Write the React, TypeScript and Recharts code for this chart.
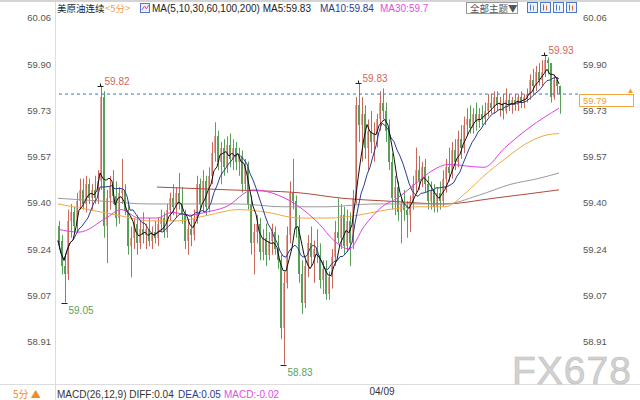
import React from 'react';
import { ComposedChart, Bar, Line, XAxis, YAxis, ReferenceLine, ReferenceDot } from 'recharts';

document.body.style.margin = '0';

// 5-minute candles (left to right)
const opens = [
  59.32, 59.27, 59.18, 59.15, 59.34, 59.37, 59.32, 59.41, 59.45, 59.40, 59.47, 59.42, 59.45, 59.42, 59.48, 59.78,
  59.32, 59.42, 59.46, 59.43, 59.35, 59.44, 59.45, 59.38, 59.25, 59.28, 59.33, 59.26, 59.31, 59.29, 59.31, 59.27,
  59.30, 59.28, 59.33, 59.35, 59.30, 59.38, 59.42, 59.39, 59.44, 59.40, 59.36, 59.27, 59.31, 59.29, 59.35, 59.47,
  59.40, 59.48, 59.39, 59.50, 59.58, 59.64, 59.55, 59.60, 59.53, 59.61, 59.56, 59.60, 59.55, 59.57, 59.47, 59.53,
  59.40, 59.26, 59.30, 59.33, 59.23, 59.28, 59.22, 59.27, 59.30, 59.24, 59.20, 58.96, 59.12, 59.29, 59.44, 59.41,
  59.31, 59.15, 59.05, 59.18, 59.26, 59.21, 59.24, 59.22, 59.13, 59.17, 59.08, 59.14, 59.21, 59.30, 59.28, 59.36,
  59.25, 59.34, 59.26, 59.42, 59.75, 59.68, 59.72, 59.60, 59.66, 59.62, 59.65, 59.70, 59.76, 59.73, 59.66, 59.55,
  59.42, 59.46, 59.37, 59.40, 59.38, 59.36, 59.41, 59.47, 59.52, 59.48, 59.53, 59.47, 59.41, 59.45, 59.39, 59.44,
  59.41, 59.49, 59.53, 59.51, 59.59, 59.55, 59.63, 59.60, 59.68, 59.70, 59.67, 59.72, 59.69, 59.72, 59.70, 59.73,
  59.76, 59.74, 59.78, 59.75, 59.76, 59.73, 59.77, 59.75, 59.77, 59.75, 59.78, 59.76, 59.78, 59.79, 59.84, 59.82,
  59.87, 59.84, 59.87, 59.91, 59.90, 59.78, 59.84, 59.82,
];
const highs = [
  59.34, 59.29, 59.22, 59.38, 59.40, 59.39, 59.44, 59.49, 59.49, 59.50, 59.49, 59.47, 59.50, 59.52, 59.82, 59.80,
  59.45, 59.50, 59.52, 59.48, 59.46, 59.56, 59.47, 59.41, 59.32, 59.35, 59.36, 59.34, 59.37, 59.33, 59.35, 59.32,
  59.34, 59.35, 59.38, 59.37, 59.40, 59.44, 59.47, 59.46, 59.51, 59.46, 59.38, 59.34, 59.36, 59.38, 59.50, 59.49,
  59.52, 59.50, 59.53, 59.62, 59.69, 59.66, 59.62, 59.63, 59.64, 59.65, 59.63, 59.62, 59.60, 59.59, 59.56, 59.55,
  59.43, 59.33, 59.36, 59.35, 59.31, 59.33, 59.30, 59.33, 59.32, 59.29, 59.22, 59.16, 59.32, 59.48, 59.56, 59.43,
  59.36, 59.20, 59.20, 59.29, 59.32, 59.27, 59.31, 59.26, 59.20, 59.20, 59.16, 59.24, 59.34, 59.42, 59.40, 59.39,
  59.38, 59.37, 59.45, 59.78, 59.83, 59.78, 59.75, 59.70, 59.73, 59.69, 59.72, 59.80, 59.81, 59.76, 59.70, 59.58,
  59.50, 59.48, 59.42, 59.45, 59.41, 59.43, 59.50, 59.60, 59.57, 59.55, 59.56, 59.50, 59.48, 59.47, 59.46, 59.48,
  59.52, 59.56, 59.60, 59.62, 59.63, 59.66, 59.68, 59.71, 59.74, 59.75, 59.74, 59.76, 59.74, 59.75, 59.76, 59.79,
  59.79, 59.80, 59.80, 59.78, 59.79, 59.81, 59.79, 59.78, 59.79, 59.79, 59.80, 59.79, 59.81, 59.86, 59.88, 59.89,
  59.90, 59.91, 59.93, 59.92, 59.90, 59.86, 59.85, 59.82,
];
const lows = [
  59.24, 59.15, 59.05, 59.13, 59.28, 59.30, 59.30, 59.38, 59.38, 59.37, 59.40, 59.38, 59.40, 59.40, 59.45, 59.28,
  59.19, 59.38, 59.40, 59.32, 59.33, 59.40, 59.36, 59.22, 59.14, 59.24, 59.22, 59.24, 59.26, 59.24, 59.25, 59.24,
  59.26, 59.25, 59.30, 59.28, 59.28, 59.34, 59.36, 59.35, 59.38, 59.33, 59.24, 59.22, 59.25, 59.27, 59.33, 59.38,
  59.37, 59.36, 59.37, 59.47, 59.55, 59.52, 59.47, 59.50, 59.51, 59.53, 59.52, 59.52, 59.50, 59.44, 59.45, 59.38,
  59.22, 59.15, 59.26, 59.20, 59.20, 59.18, 59.20, 59.22, 59.22, 59.17, 58.92, 58.83, 59.10, 59.26, 59.38, 59.28,
  59.12, 59.01, 59.03, 59.14, 59.18, 59.12, 59.19, 59.10, 59.08, 59.06, 59.06, 59.10, 59.18, 59.26, 59.24, 59.22,
  59.23, 59.18, 59.24, 59.40, 59.62, 59.55, 59.56, 59.52, 59.58, 59.55, 59.60, 59.66, 59.70, 59.62, 59.52, 59.38,
  59.36, 59.34, 59.26, 59.34, 59.28, 59.30, 59.38, 59.44, 59.45, 59.46, 59.44, 59.38, 59.38, 59.37, 59.37, 59.38,
  59.39, 59.44, 59.48, 59.49, 59.52, 59.53, 59.56, 59.58, 59.64, 59.65, 59.65, 59.66, 59.67, 59.68, 59.68, 59.71,
  59.72, 59.72, 59.73, 59.71, 59.70, 59.72, 59.73, 59.72, 59.73, 59.73, 59.74, 59.74, 59.76, 59.77, 59.79, 59.80,
  59.82, 59.82, 59.85, 59.86, 59.76, 59.77, 59.79, 59.72,
];
const closes = [
  59.27, 59.18, 59.15, 59.34, 59.37, 59.32, 59.41, 59.45, 59.40, 59.47, 59.42, 59.45, 59.42, 59.48, 59.78, 59.32,
  59.42, 59.46, 59.43, 59.35, 59.44, 59.45, 59.38, 59.25, 59.28, 59.33, 59.26, 59.31, 59.29, 59.31, 59.27, 59.30,
  59.28, 59.33, 59.35, 59.30, 59.38, 59.42, 59.39, 59.44, 59.40, 59.36, 59.27, 59.31, 59.29, 59.35, 59.47, 59.40,
  59.48, 59.39, 59.50, 59.58, 59.64, 59.55, 59.60, 59.53, 59.61, 59.56, 59.60, 59.55, 59.57, 59.47, 59.53, 59.40,
  59.26, 59.30, 59.33, 59.23, 59.28, 59.22, 59.27, 59.30, 59.24, 59.20, 58.96, 59.12, 59.29, 59.44, 59.41, 59.31,
  59.15, 59.05, 59.18, 59.26, 59.21, 59.24, 59.22, 59.13, 59.17, 59.08, 59.14, 59.21, 59.30, 59.28, 59.36, 59.25,
  59.34, 59.26, 59.42, 59.75, 59.68, 59.72, 59.60, 59.66, 59.62, 59.65, 59.70, 59.76, 59.73, 59.66, 59.55, 59.42,
  59.46, 59.37, 59.40, 59.38, 59.36, 59.41, 59.47, 59.52, 59.48, 59.53, 59.47, 59.41, 59.45, 59.39, 59.44, 59.41,
  59.49, 59.53, 59.51, 59.59, 59.55, 59.63, 59.60, 59.68, 59.70, 59.67, 59.72, 59.69, 59.72, 59.70, 59.73, 59.76,
  59.74, 59.78, 59.75, 59.76, 59.73, 59.77, 59.75, 59.77, 59.75, 59.78, 59.76, 59.78, 59.79, 59.84, 59.82, 59.87,
  59.84, 59.87, 59.91, 59.90, 59.78, 59.84, 59.82, 59.79,
];

// longer moving averages read at sparse candle indices: [index, value]
const ma30Points: [number, number][] = [
  [0, 59.31], [7, 59.30], [16, 59.35], [21, 59.38], [27, 59.35], [33, 59.35], [38, 59.37], [44, 59.36],
  [49, 59.37], [56, 59.39], [65, 59.45], [71, 59.44], [79, 59.40], [87, 59.33], [92, 59.27], [97, 59.24],
  [102, 59.32], [108, 59.39], [113, 59.42], [119, 59.47], [125, 59.52], [130, 59.54], [142, 59.53],
  [149, 59.60], [157, 59.67], [167, 59.74],
];
const ma60Points: [number, number][] = [
  [0, 59.40], [10, 59.38], [20, 59.36], [30, 59.34], [40, 59.34], [50, 59.36], [60, 59.38], [70, 59.37],
  [80, 59.35], [90, 59.35], [100, 59.36], [110, 59.38], [120, 59.39], [129, 59.39], [136, 59.44],
  [142, 59.50], [149, 59.56], [157, 59.62], [163, 59.645], [167, 59.65],
];
const ma100Points: [number, number][] = [
  [0, 59.42], [15, 59.41], [30, 59.40], [45, 59.40], [60, 59.40], [75, 59.39], [90, 59.39], [105, 59.40],
  [120, 59.40], [129, 59.40], [140, 59.43], [151, 59.47], [160, 59.49], [167, 59.51],
];
const ma200Points: [number, number][] = [
  [33, 59.46], [57, 59.45], [80, 59.44], [95, 59.42], [110, 59.41], [129, 59.40], [145, 59.42], [167, 59.45],
];

const priceTicks = [58.91, 59.074, 59.239, 59.403, 59.567, 59.731, 59.896, 60.06];
const lastPrice = 59.79;
const dayBreak = { index: 108, label: '04/09' };
const extremes = [
  { index: 14, kind: 'high' },
  { index: 100, kind: 'high' },
  { index: 162, kind: 'high' },
  { index: 2, kind: 'low' },
  { index: 75, kind: 'low' },
];

const FONT = 'Liberation Sans, Arial, sans-serif';
const CJK = 'Noto Sans CJK SC, sans-serif';
const UP = '#c8685a';
const UP_FILL = '#e4a096';
const DOWN = '#58a058';

function movingAvg(values: number[], n: number) {
  return values.map((_, i) => {
    const win = values.slice(Math.max(0, i - n + 1), i + 1);
    return win.reduce((a, b) => a + b, 0) / win.length;
  });
}

function lookup(points: [number, number][]) {
  const m = new Map(points);
  return (i: number) => (m.has(i) ? (m.get(i) as number) : null);
}

const ma5 = movingAvg(closes, 5);
const ma10 = movingAvg(closes, 10);
const ma30 = lookup(ma30Points);
const ma60 = lookup(ma60Points);
const ma100 = lookup(ma100Points);
const ma200 = lookup(ma200Points);

const data = closes.map((c, i) => ({
  t: i,
  o: opens[i],
  h: highs[i],
  l: lows[i],
  c,
  ma5: ma5[i],
  ma10: ma10[i],
  ma30: ma30(i),
  ma60: ma60(i),
  ma100: ma100(i),
  ma200: ma200(i),
}));

function Candle(props: any) {
  const { x, y, height, payload } = props;
  if (!payload || x == null) return null;
  const { o, h, l, c } = payload;
  const top = Math.min(y, y + height);
  const bottom = Math.max(y, y + height);
  const ppu = h > l ? (bottom - top) / (h - l) : 0;
  const yOf = (v: number) => top + (h - v) * ppu;
  const up = c >= o;
  const bx = Math.round(x);
  const bTop = Math.round(yOf(Math.max(o, c)));
  const bBot = Math.round(yOf(Math.min(o, c)));
  return (
    <g>
      <rect x={bx} y={bTop} width={2} height={Math.max(1, bBot - bTop)} fill={up ? UP_FILL : DOWN} />
      <line x1={bx + 1.5} x2={bx + 1.5} y1={top} y2={bottom} stroke={up ? UP : DOWN} strokeWidth={1} />
    </g>
  );
}

function Marker(props: any) {
  const { cx, cy, kind, value } = props;
  if (cx == null || cy == null) return null;
  const px = Math.floor(cx) + 0.5;
  const py = Math.round(cy) + 0.5;
  const high = kind === 'high';
  return (
    <g>
      <line x1={px - 3} x2={px + 3} y1={py} y2={py} stroke="#222" />
      {high && <line x1={px} x2={px} y1={py - 3} y2={py} stroke="#222" />}
      <text
        x={px + 4}
        y={high ? py - 2 : py + 10}
        fontSize={10}
        fontFamily={FONT}
        fill={high ? '#d0685a' : '#5aa05a'}
      >
        {value.toFixed(2)}
      </text>
    </g>
  );
}

const LeftTick = (p: any) => (
  <text x={51} y={p.y} dy="0.355em" textAnchor="end" fontSize={9.5} fontFamily={FONT} fill="#555">
    {Number(p.payload.value).toFixed(2)}
  </text>
);

const RightTick = (p: any) => (
  <text x={583} y={p.y} dy="0.355em" textAnchor="start" fontSize={9.5} fontFamily={FONT} fill="#555">
    {Number(p.payload.value).toFixed(2)}
  </text>
);

const DayTick = (p: any) => (
  <text x={p.x} y={391} dy="0.355em" textAnchor="middle" fontSize={10} fontFamily={FONT} fill="#333">
    {dayBreak.label}
  </text>
);

function ToolIcon({ x }: { x: number }) {
  return (
    <g>
      <rect x={x + 0.5} y={2.5} width={10} height={10} fill="#eef3ff" stroke="#4a78c8" />
      <line x1={x + 3.5} x2={x + 3.5} y1={4.5} y2={10.5} stroke="#4a78c8" />
      <line x1={x + 6.5} x2={x + 6.5} y1={5.5} y2={10.5} stroke="#e07030" />
    </g>
  );
}

function Overlay() {
  return (
    <svg
      width={640}
      height={400}
      style={{ position: 'absolute', left: 0, top: 0, pointerEvents: 'none' }}
    >
      <rect x={0} y={0} width={640} height={2} fill="#d4d4d4" />
      <line x1={55.5} x2={55.5} y1={2} y2={400} stroke="#dcdcdc" />
      <line x1={0} x2={640} y1={384.5} y2={384.5} stroke="#dcdcdc" />

      <text x={57} y={12} fontSize={9.5} fontFamily={CJK} fill="#222">美原油连续</text>
      <text x={105} y={12} fontSize={9.5} fontFamily={CJK} fill="#f0a040">&lt;5分&gt;</text>
      <rect x={140.5} y={3.5} width={9} height={9} fill="#eef0ff" stroke="#5577cc" />
      <polyline points="142,10 144.5,6 146.5,9 148.5,5" fill="none" stroke="#d050a0" />
      <text x={152} y={12} fontSize={10} fontFamily={FONT} fill="#222">MA(5,10,30,60,100,200) MA5:59.83</text>
      <text x={320} y={12} fontSize={10} fontFamily={FONT} fill="#2b3b8f">MA10:59.84</text>
      <text x={380} y={12} fontSize={10} fontFamily={FONT} fill="#e050e0">MA30:59.7</text>

      <rect x={466.5} y={2.5} width={51} height={11} fill="#fff" stroke="#999" />
      <text x={470} y={11.5} fontSize={9.5} fontFamily={CJK} fill="#555">全部主题▼</text>
      <ToolIcon x={527} />
      <ToolIcon x={540} />
      <ToolIcon x={553} />
      <ToolIcon x={566} />

      <rect x={579.5} y={94.5} width={54} height={12} fill="#fff" stroke="#f0a840" />
      <text x={583} y={103.5} fontSize={9.5} fontFamily={FONT} fill="#f0a030">{lastPrice.toFixed(2)}</text>
      <path d="M628 93 L630.5 88.5 L633 93 Z" fill="#f0a030" />

      <text x={512} y={384} fontSize={39} fontFamily={FONT} fill="#d2d2d2" stroke="#bdbdbd" strokeWidth={0.6} letterSpacing={1}>
        FX678
      </text>

      <text x={13} y={398} fontSize={10} fontFamily={CJK} fill="#f08c28">5分 ▲</text>
      <text x={57} y={398} fontSize={10} fontFamily={FONT} fill="#333">MACD(26,12,9) DIFF:0.04</text>
      <text x={178} y={398} fontSize={10} fontFamily={FONT} fill="#2b3b8f">DEA:0.05</text>
      <text x={224} y={398} fontSize={10} fontFamily={FONT} fill="#e050e0">MACD:-0.02</text>
    </svg>
  );
}

export default function App() {
  const domain: [number, number] = [58.7645, 60.1097];
  return (
    <div style={{ position: 'relative', width: 640, height: 400, background: '#fff' }}>
      <ComposedChart width={640} height={400} data={data} margin={{ top: 4, right: 0, bottom: 0, left: 0 }}>
        <XAxis
          dataKey="t"
          type="category"
          padding={{ left: 1.5, right: 17.5 }}
          ticks={[dayBreak.index]}
          interval={0}
          axisLine={false}
          tickLine={false}
          height={17}
          tick={DayTick}
        />
        <YAxis
          yAxisId="left"
          orientation="left"
          width={55}
          domain={domain}
          allowDataOverflow
          ticks={priceTicks}
          axisLine={false}
          tickLine={false}
          tick={LeftTick}
        />
        <YAxis
          yAxisId="right"
          orientation="right"
          width={62}
          domain={domain}
          allowDataOverflow
          ticks={priceTicks}
          axisLine={false}
          tickLine={false}
          tick={RightTick}
        />
        <ReferenceLine yAxisId="right" y={lastPrice} stroke="#3f72b8" strokeDasharray="3 3" />
        <Bar
          yAxisId="left"
          dataKey={(d: any) => [d.l, d.h]}
          barSize={2}
          shape={Candle}
          isAnimationActive={false}
        />
        <Line yAxisId="left" dataKey="ma200" stroke="#b04a3a" strokeWidth={1} dot={false} connectNulls type="monotone" isAnimationActive={false} />
        <Line yAxisId="left" dataKey="ma100" stroke="#9a9a9a" strokeWidth={1} dot={false} connectNulls type="monotone" isAnimationActive={false} />
        <Line yAxisId="left" dataKey="ma60" stroke="#f0a845" strokeWidth={1} dot={false} connectNulls type="monotone" isAnimationActive={false} />
        <Line yAxisId="left" dataKey="ma30" stroke="#e040e0" strokeWidth={1} dot={false} connectNulls type="monotone" isAnimationActive={false} />
        <Line yAxisId="left" dataKey="ma10" stroke="#2a3c90" strokeWidth={1} dot={false} type="linear" isAnimationActive={false} />
        <Line yAxisId="left" dataKey="ma5" stroke="#111" strokeWidth={1} dot={false} type="linear" isAnimationActive={false} />
        {extremes.map((e) => {
          const value = e.kind === 'high' ? highs[e.index] : lows[e.index];
          return (
            <ReferenceDot
              key={e.index}
              yAxisId="left"
              x={e.index}
              y={value}
              r={0}
              shape={(p: any) => <Marker {...p} kind={e.kind} value={value} />}
            />
          );
        })}
      </ComposedChart>
      <Overlay />
    </div>
  );
}
